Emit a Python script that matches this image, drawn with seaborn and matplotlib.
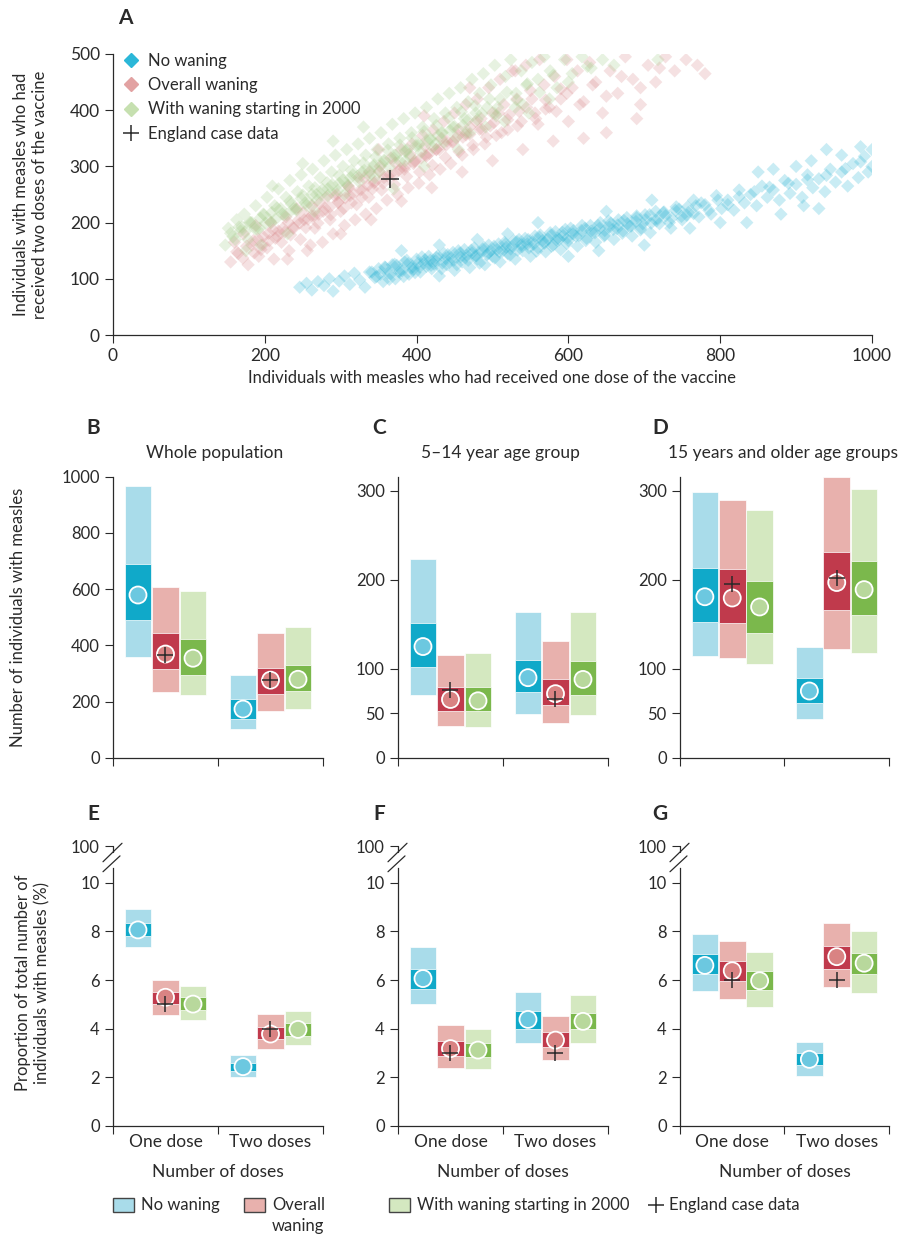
import numpy as np
import pandas as pd
import matplotlib
matplotlib.use("Agg")
import matplotlib.pyplot as plt
import seaborn as sns
from matplotlib.lines import Line2D
from matplotlib.patches import Rectangle

# ---------------- data ----------------
scenarios = ["No waning", "Overall waning", "With waning starting in 2000"]
doses = ["One dose", "Two doses"]

# panel A: simulated outbreaks (one dose vs two doses), read off the cloud
blue_x = [246, 255, 262, 270, 278, 285, 290, 298, 305, 312, 318, 325, 332, 338,
          345, 350, 356, 362, 368, 372, 378, 384, 390, 395, 400, 405, 410, 416, 420, 425,
          430, 436, 440, 446, 450, 455, 460, 466, 470, 476, 480, 486, 490, 495, 500, 506,
          510, 516, 520, 526, 530, 535, 540, 546, 550, 556, 560, 566, 570, 576, 580, 586,
          590, 596, 600, 606, 612, 618, 624, 630, 636, 642, 648, 654, 660, 666, 672, 678,
          684, 690, 696, 702, 708, 715, 720, 728, 735, 742, 750, 758, 765, 772, 780, 788,
          795, 802, 810, 818, 825, 832, 840, 848, 855, 862, 870, 878, 885, 892, 900, 908,
          915, 922, 930, 938, 945, 952, 960, 968, 975, 982, 990, 995, 1000, 1000, 985, 960,
          940, 920, 900, 870, 850, 835, 880, 910, 930, 710, 650, 560, 520, 480, 430, 380,
          600, 640, 700, 760, 800,
          352, 358, 364, 371, 377, 383, 387, 393, 398, 402, 407, 413, 418, 423, 428, 433,
          438, 443, 448, 453, 458, 463, 468, 473, 478, 483, 488, 493, 498, 503, 508, 513,
          518, 523, 528, 533, 538, 543, 548, 553, 558, 563, 568, 573, 578, 583, 588, 593,
          598, 603, 610, 617, 623, 629, 635, 641, 647, 653, 659, 665, 671, 677, 683, 689,
          695, 701, 709, 717, 725, 733, 741, 749, 757, 765, 775, 785, 797, 810, 825, 845,
          865, 890, 915, 940, 965, 985,
          341, 347, 359, 366, 374, 381, 389, 396, 404, 411, 419, 426, 434, 441, 449, 457,
          464, 472, 479, 487, 494, 502, 509, 517, 524, 532, 539, 547, 554, 562, 569, 577,
          584, 592, 599, 607, 614, 622, 631, 639, 648, 656, 664, 673, 681, 690, 698, 707,
          716, 726, 736, 746, 756, 768]
blue_y = [85, 92, 80, 95, 88, 100, 78, 96, 105, 90, 110, 98, 85, 112,
          102, 118, 95, 110, 125, 100, 115, 130, 108, 122, 135, 112, 128, 140, 118, 132,
          105, 145, 125, 138, 115, 150, 130, 142, 120, 155, 135, 148, 125, 160, 140, 152,
          130, 165, 145, 158, 135, 170, 150, 162, 140, 176, 155, 168, 148, 182, 160, 172,
          152, 188, 168, 180, 158, 195, 172, 185, 165, 200, 178, 192, 170, 205, 185, 198,
          176, 212, 190, 205, 182, 220, 198, 212, 190, 228, 205, 218, 240, 210, 232, 215,
          248, 225, 240, 222, 258, 235, 250, 230, 265, 245, 258, 240, 275, 252, 268, 245,
          285, 262, 278, 255, 295, 272, 290, 265, 305, 280, 318, 290, 300, 330, 335, 320,
          330, 310, 300, 295, 290, 200, 215, 230, 225, 240, 220, 200, 180, 170, 160, 150,
          140, 150, 160, 190, 200,
          108, 121, 99, 126, 112, 104, 133, 119, 111, 128, 139, 122, 133, 126, 141, 118,
          136, 129, 147, 125, 139, 152, 133, 146, 141, 128, 157, 143, 150, 137, 162, 149,
          156, 142, 168, 151, 161, 172, 155, 166, 149, 178, 163, 171, 158, 184, 170, 177,
          163, 190, 176, 186, 168, 195, 182, 190, 176, 203, 188, 196, 181, 209, 194, 202,
          187, 214, 199, 207, 218, 200, 222, 211, 228, 216, 235, 222, 240, 232, 246, 255,
          263, 270, 276, 284, 296, 308,
          112, 104, 120, 109, 124, 114, 127, 117, 121, 134, 124, 138, 128, 143, 133, 146,
          137, 151, 141, 153, 145, 158, 148, 162, 153, 166, 157, 170, 161, 174, 165, 178,
          169, 183, 173, 186, 177, 190, 181, 195, 186, 199, 189, 204, 193, 209, 198, 214,
          203, 219, 208, 224, 213, 230]

red_x = [155, 160, 165, 172, 178, 183, 188, 192, 198, 203, 208, 212, 218, 222, 228, 232,
         238, 242, 247, 252, 256, 262, 266, 271, 276, 281, 286, 290, 295, 300, 305, 310,
         314, 319, 324, 328, 333, 338, 342, 347, 352, 356, 361, 366, 370, 375, 380, 384,
         389, 394, 398, 403, 408, 412, 417, 422, 426, 431, 436, 440, 445, 450, 455, 460,
         465, 470, 475, 480, 485, 490, 495, 500, 505, 510, 515, 520, 526, 532, 538, 544,
         550, 556, 562, 568, 575, 582, 590, 598, 605, 612, 620, 628, 636, 645, 655, 665,
         675, 685, 695, 705, 715, 728, 740, 755, 770, 780, 620, 580, 540, 500, 460, 420,
         380, 340, 300, 260, 230, 350, 410, 470, 530, 560, 650, 690, 600,
         185, 195, 205, 214, 224, 234, 244, 254, 262, 270, 279, 287, 296, 304, 312, 321,
         329, 337, 345, 354, 362, 371, 379, 387, 396, 404, 413, 421, 430, 438, 447, 456,
         465, 474, 483, 492, 502, 512, 522, 533, 545, 557, 570, 584, 598, 615, 632, 650,
         670, 695, 720,
         163, 171, 176, 186, 191, 197, 206, 211, 217, 226, 231, 237, 246, 251, 257, 265,
         272, 277, 285, 292, 297, 306, 311, 317, 326, 331, 336, 344, 351, 357, 365, 372,
         377, 385, 391, 397, 406, 411, 417, 426, 433, 439, 448, 455, 461, 470, 478, 486,
         497, 508, 520, 535, 552, 570, 590]
red_y = [130, 165, 145, 180, 125, 160, 195, 140, 175, 155, 200, 135, 185, 165, 210, 150,
         190, 225, 170, 205, 150, 230, 190, 215, 165, 245, 205, 180, 250, 220, 195, 265,
         235, 205, 280, 245, 215, 290, 260, 225, 300, 270, 240, 315, 285, 250, 330, 295,
         262, 340, 310, 270, 355, 320, 285, 365, 330, 295, 380, 345, 305, 395, 355, 320,
         410, 370, 330, 420, 385, 340, 440, 395, 355, 455, 410, 365, 470, 420, 380, 480,
         435, 395, 490, 445, 405, 460, 420, 490, 440, 470, 415, 485, 450, 395, 470, 430,
         495, 455, 410, 480, 450, 495, 470, 490, 480, 465, 350, 345, 330, 310, 290, 262,
         238, 205, 180, 160, 135, 330, 390, 440, 470, 375, 360, 385, 380,
         168, 152, 181, 172, 190, 178, 204, 191, 212, 199, 226, 214, 236, 225, 248, 232,
         258, 245, 272, 258, 283, 268, 296, 282, 305, 290, 318, 302, 330, 316, 343, 326,
         356, 338, 366, 352, 378, 360, 392, 372, 405, 385, 418, 398, 430, 410, 445, 425,
         460, 440, 475,
         148, 137, 158, 146, 171, 160, 168, 187, 176, 183, 200, 191, 199, 218, 206, 212,
         234, 220, 227, 248, 236, 244, 262, 251, 258, 279, 266, 270, 291, 280, 285, 306,
         293, 300, 322, 308, 315, 336, 323, 330, 350, 338, 344, 366, 352, 357, 380, 366,
         372, 395, 383, 398, 420, 402, 438]

green_x = [148, 152, 158, 163, 168, 173, 178, 183, 188, 193, 198, 203, 208, 213, 218, 223,
           228, 233, 238, 243, 248, 253, 258, 263, 268, 273, 278, 283, 288, 293, 298, 303,
           308, 313, 318, 323, 328, 333, 338, 343, 348, 353, 358, 363, 368, 373, 378, 383,
           388, 393, 398, 403, 408, 413, 418, 423, 428, 433, 438, 443, 448, 453, 458, 463,
           468, 473, 478, 483, 488, 493, 498, 503, 510, 517, 524, 531, 538, 545, 552, 560,
           568, 576, 585, 595, 605, 618, 630, 645, 660, 718, 265, 305, 345, 385,
           425, 465, 505, 330, 290, 250, 210, 230, 195, 175, 370, 410, 455, 540, 575,
           170, 180, 190, 199, 207, 216, 225, 233, 241, 250, 258, 266, 274, 282, 290, 298,
           306, 314, 322, 330, 338, 346, 354, 362, 370, 378, 386, 394, 402, 410, 418, 426,
           434, 442, 450, 459, 468, 477, 486, 496, 507, 519, 532, 546, 562, 580, 600, 625,
           155, 161, 166, 174, 181, 187, 194, 201, 209, 214, 221, 229, 235, 242, 248, 255,
           262, 269, 276, 283, 289, 296, 303, 309, 316, 324, 331, 338, 344, 351, 357, 364,
           371, 378, 385, 392, 399, 406, 413, 421, 428, 436, 444, 452, 461, 470, 480, 491,
           503, 516, 530, 548]
green_y = [160, 190, 175, 205, 185, 215, 170, 200, 230, 190, 215, 245, 200, 230, 260, 215,
           245, 275, 225, 255, 285, 235, 265, 295, 250, 280, 310, 260, 290, 320, 270, 300,
           330, 280, 310, 340, 290, 320, 350, 300, 330, 360, 310, 340, 375, 320, 350, 385,
           330, 360, 395, 340, 370, 405, 350, 385, 420, 360, 395, 430, 370, 405, 440, 385,
           415, 455, 395, 430, 465, 405, 445, 480, 420, 460, 490, 430, 470, 445, 485, 455,
           495, 470, 440, 490, 465, 495, 475, 490, 480, 490, 220, 250, 280, 310,
           340, 360, 390, 370, 345, 305, 265, 180, 160, 150, 260, 300, 330, 410, 420,
           192, 201, 188, 214, 203, 226, 214, 238, 224, 249, 236, 262, 250, 271, 258, 284,
           271, 293, 282, 306, 292, 317, 304, 329, 315, 338, 326, 351, 337, 362, 348, 373,
           360, 386, 371, 397, 383, 408, 394, 420, 405, 432, 418, 447, 432, 462, 450, 478,
           181, 170, 192, 184, 200, 189, 208, 199, 218, 206, 225, 214, 233, 222, 243, 231,
           250, 240, 259, 248, 268, 257, 276, 266, 285, 273, 293, 283, 303, 291, 311, 299,
           320, 309, 328, 317, 337, 325, 346, 334, 355, 343, 364, 351, 373, 360, 383, 370,
           394, 380, 405, 395]

england_one = [365]
england_two = [278]

# panels B-G: order within each dose group = No waning, Overall waning, waning from 2000
b_lo = [360, 234, 223, 103, 167, 174]
b_hi = [967, 606, 594, 295, 443, 464]
b_q1 = [490, 317, 295, 139, 227, 236]
b_q3 = [689, 443, 421, 208, 319, 331]
b_med = [579, 369, 354, 173, 276, 279]
b_eng = [365, 276]

c_lo = [70, 36, 35, 49, 39, 48]
c_hi = [223, 115, 118, 164, 131, 163.5]
c_q1 = [102, 52, 52, 74, 59, 71]
c_q3 = [151.5, 79, 79, 110, 89, 108.5]
c_med = [125, 65.5, 64, 90, 72, 88]
c_eng = [76, 66]

d_lo = [114, 112, 105, 44, 122, 118]
d_hi = [298.5, 290, 279, 124, 316, 302]
d_q1 = [153, 152, 140.7, 62, 166, 160]
d_q3 = [213, 212, 199, 89.4, 231, 221]
d_med = [181, 179.6, 169.5, 75, 197, 189]
d_eng = [195, 202]

e_lo = [7.34, 4.57, 4.36, 2.0, 3.18, 3.32]
e_hi = [8.93, 6.0, 5.75, 2.9, 4.6, 4.71]
e_q1 = [7.81, 5.01, 4.77, 2.27, 3.56, 3.7]
e_q3 = [8.33, 5.51, 5.29, 2.6, 4.08, 4.22]
e_med = [8.06, 5.29, 5.01, 2.44, 3.78, 3.97]
e_eng = [5.01, 4.0]

f_lo = [5.01, 2.38, 2.33, 3.4, 2.71, 3.4]
f_hi = [7.34, 4.14, 4.0, 5.51, 4.52, 5.4]
f_q1 = [5.64, 2.88, 2.82, 4.0, 3.23, 3.97]
f_q3 = [6.47, 3.48, 3.4, 4.74, 3.86, 4.66]
f_med = [6.06, 3.18, 3.12, 4.38, 3.53, 4.3]
f_eng = [3.01, 3.01]

g_lo = [5.53, 5.23, 4.88, 2.05, 5.73, 5.48]
g_hi = [7.89, 7.62, 7.15, 3.45, 8.36, 8.0]
g_q1 = [6.25, 5.97, 5.59, 2.49, 6.47, 6.25]
g_q3 = [7.07, 6.79, 6.36, 2.99, 7.4, 7.12]
g_med = [6.6, 6.38, 5.97, 2.74, 6.96, 6.69]
g_eng = [6.0, 6.0]

# colours
pt_cols = ["#2bb4d4", "#d98a8c", "#a2cc88"]
leg_pt_cols = ["#2bb7d8", "#e2a2a2", "#c6e0b0"]
light_cols = ["#a9dcea", "#e8b1ad", "#d4e8c0"]
dark_cols = ["#10a9c9", "#c03a4c", "#7bb84c"]
circ_cols = ["#6cc8e0", "#d98383", "#b8d89c"]
ink = "#2a2a2a"

# ---------------- style ----------------
sns.set_theme(style="ticks")
plt.rcParams["font.family"] = ["Lato", "DejaVu Sans"]
plt.rcParams.update({
    "axes.edgecolor": ink, "axes.linewidth": 0.9,
    "xtick.color": ink, "ytick.color": ink,
    "xtick.major.size": 6, "ytick.major.size": 6,
    "xtick.major.width": 0.8, "ytick.major.width": 0.8,
    "xtick.labelsize": 12, "ytick.labelsize": 12,
    "text.color": ink, "axes.labelcolor": ink,
})

W, H = 903, 1245
fig = plt.figure(figsize=(W / 100, H / 100), dpi=100)


def box(l, t, r, b):
    return [l / W, 1 - b / H, (r - l) / W, (b - t) / H]


def ftext(x, y, s, **kw):
    fig.text(x / W, 1 - y / H, s, **kw)


# ---------------- panel A ----------------
axA = fig.add_axes(box(113, 54, 872, 335))
dfA = pd.concat([
    pd.DataFrame({"one": blue_x, "two": blue_y, "scenario": scenarios[0]}),
    pd.DataFrame({"one": red_x, "two": red_y, "scenario": scenarios[1]}),
    pd.DataFrame({"one": green_x, "two": green_y, "scenario": scenarios[2]}),
], ignore_index=True)
sns.scatterplot(data=dfA, x="one", y="two", hue="scenario", palette=pt_cols,
                marker="D", s=46, alpha=0.25, linewidth=0, legend=False, ax=axA)
sns.scatterplot(x=england_one, y=england_two, marker="+", color=ink, s=150,
                linewidth=1.1, ax=axA, zorder=5)
axA.set_xlim(0, 1000)
axA.set_ylim(0, 500)
axA.set_xticks(range(0, 1001, 200))
axA.set_yticks(range(0, 501, 100))
axA.tick_params(labelsize=12.5)
axA.set_xlabel("Individuals with measles who had received one dose of the vaccine",
               fontsize=12, labelpad=4)
axA.set_ylabel("Individuals with measles who had\nreceived two doses of the vaccine",
               fontsize=12)
axA.yaxis.set_label_coords((48 - 113) / 759, 0.5)
sns.despine(ax=axA)
handles = [Line2D([], [], marker="D", ls="", color=c, markersize=7) for c in leg_pt_cols]
handles.append(Line2D([], [], marker="+", ls="", color=ink, markersize=11, mew=1.1))
axA.legend(handles, scenarios + ["England case data"], loc="upper left",
           bbox_to_anchor=(0.0, 1.04), frameon=False, fontsize=12, handlelength=1.0,
           handletextpad=0.5, labelspacing=0.5, borderaxespad=0.2)
ftext(125, 18, "A", fontsize=15, fontweight="bold", ha="center", va="center")


# ---------------- panels B-G ----------------
def draw_boxes(ax, lo, hi, q1, q3, med, eng):
    df = pd.DataFrame({
        "dose": np.repeat(doses, 3),
        "scenario": scenarios * 2,
        "lo": lo, "hi": hi, "q1": q1, "q3": q3, "med": med,
    })
    df["x"] = [0.5 + o for o in (-0.262, 0, 0.262)] + [1.5 + o for o in (-0.262, 0, 0.262)]
    cols = light_cols * 2
    dcols = dark_cols * 2
    ax.bar(df["x"], df["hi"] - df["lo"], bottom=df["lo"], width=0.255, color=cols,
           edgecolor="white", linewidth=0.5, zorder=1)
    ax.bar(df["x"], df["q3"] - df["q1"], bottom=df["q1"], width=0.255, color=dcols,
           edgecolor="white", linewidth=0.5, zorder=2)
    sns.scatterplot(data=df, x="x", y="med", hue="scenario", palette=circ_cols, s=150,
                    edgecolor="white", linewidth=1.3, legend=False, ax=ax, zorder=3)
    sns.scatterplot(x=[0.5, 1.5], y=eng, marker="+", color=ink, s=140, linewidth=1.1,
                    ax=ax, zorder=4)
    ax.set_xlim(0, 2)
    ax.set_xticks([0, 1, 2])
    ax.set_xticklabels([])
    ax.set_xlabel("")
    ax.set_ylabel("")
    sns.despine(ax=ax)


top_lefts = [113, 398, 680]
widths = [210, 210, 209]
rows1 = [(b_lo, b_hi, b_q1, b_q3, b_med, b_eng),
         (c_lo, c_hi, c_q1, c_q3, c_med, c_eng),
         (d_lo, d_hi, d_q1, d_q3, d_med, d_eng)]
rows2 = [(e_lo, e_hi, e_q1, e_q3, e_med, e_eng),
         (f_lo, f_hi, f_q1, f_q3, f_med, f_eng),
         (g_lo, g_hi, g_q1, g_q3, g_med, g_eng)]
subtitles = ["Whole population", "5\u201314 year age group", "15 years and older age groups"]
sub_x = [215, 500, 783]
letters1 = [("B", 93), ("C", 379), ("D", 660)]
letters2 = [("E", 93), ("F", 379), ("G", 660)]

for i in range(3):
    l, w = top_lefts[i], widths[i]
    ax = fig.add_axes(box(l, 476.7, l + w, 757.7))
    draw_boxes(ax, *rows1[i])
    if i == 0:
        ax.set_ylim(0, 1000)
        ax.set_yticks(range(0, 1001, 200))
        ax.set_ylabel("Number of individuals with measles", fontsize=12)
        ax.yaxis.set_label_coords((26 - l) / w, 0.5)
    else:
        ax.set_ylim(0, 316)
        ax.set_yticks([0, 50, 100, 200, 300])
    ftext(sub_x[i], 453, subtitles[i], fontsize=12.5, ha="center", va="center")
    ftext(letters1[i][1], 428, letters1[i][0], fontsize=15, fontweight="bold",
          ha="center", va="center")

    ax2 = fig.add_axes(box(l, 840.1, l + w, 1126))
    draw_boxes(ax2, *rows2[i])
    ax2.set_ylim(0, 11.75)
    ax2.set_yticks([0, 2, 4, 6, 8, 10, 11.5])
    ax2.set_yticklabels(["0", "2", "4", "6", "8", "10", "100"])
    ax2.set_xticks([0.5, 1.5], minor=True)
    ax2.set_xticklabels(doses, minor=True)
    ax2.tick_params(axis="x", which="minor", length=0, pad=6, labelsize=12.5)
    ax2.set_xlabel("Number of doses", fontsize=12.5, labelpad=10)
    ax2.spines["left"].set_bounds(0, 10.6)
    tr = ax2.get_yaxis_transform()
    dx = 10 / w
    ax2.plot([0, 0], [11.25, 11.51], transform=tr, color=ink, lw=0.9, clip_on=False)
    ax2.plot([-dx, 0.9 * dx], [10.86, 11.62], transform=tr, color=ink, lw=0.9, clip_on=False)
    ax2.plot([-dx, 0.7 * dx], [10.45, 11.1], transform=tr, color=ink, lw=0.9, clip_on=False)
    if i == 0:
        ax2.set_ylabel("Proportion of total number of\nindividuals with measles (%)",
                       fontsize=12)
        ax2.yaxis.set_label_coords((50 - l) / w, 0.5)
    ftext(letters2[i][1], 814, letters2[i][0], fontsize=15, fontweight="bold",
          ha="center", va="center")

# ---------------- bottom legend ----------------
for (x0, lab), c in zip([(113, "No waning"), (244, "Overall\nwaning"),
                         (389, "With waning starting in 2000")], light_cols):
    fig.add_artist(Rectangle((x0 / W, 1 - 1212 / H), 21 / W, 14 / H, facecolor=c,
                             edgecolor="#444444", linewidth=1.0,
                             transform=fig.transFigure))
    ftext(x0 + 28, 1197, lab, fontsize=12, ha="left", va="top", linespacing=1.35)
fig.add_artist(Line2D([656 / W], [1 - 1205 / H], marker="+", color=ink, markersize=11,
                      mew=1.1, transform=fig.transFigure))
ftext(669, 1197, "England case data", fontsize=12, ha="left", va="top")

fig.savefig("out.png", dpi=100)
